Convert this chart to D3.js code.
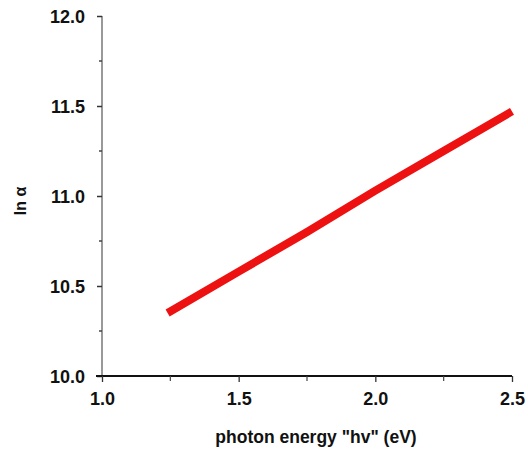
<!DOCTYPE html>
<html><head><meta charset="utf-8">
<script src="https://cdn.jsdelivr.net/npm/d3@7"></script>
<style>body{margin:0;background:#fff}svg{display:block}text{font-family:"Liberation Sans",Arial,sans-serif;font-weight:bold;fill:#111}</style>
</head><body><svg id="c" width="528" height="454"></svg>
<script>
const energy = [1.24, 1.5, 1.75, 2.0, 2.25, 2.5];
const lnAlpha = [10.35, 10.58, 10.80, 11.03, 11.25, 11.47];
const xTicks = [1.0, 1.5, 2.0, 2.5];
const yTicks = [10.0, 10.5, 11.0, 11.5, 12.0];
const xMinor = [1.25, 1.75, 2.25];
const yMinor = [10.25, 10.75, 11.25, 11.75];

const svg = d3.select("#c");
const x = d3.scaleLinear().domain([1.0, 2.5]).range([102, 512]);
const y = d3.scaleLinear().domain([10.0, 12.0]).range([376, 16]);

// y axis
const ya = svg.append("g").attr("transform", "translate(102,0)")
  .call(d3.axisLeft(y).tickValues(yTicks).tickFormat(d3.format(".1f")).tickSize(5).tickPadding(12));
ya.select(".domain").attr("stroke", "#555").attr("stroke-width", 1.2).attr("d", "M0," + y(12) + "V" + y(10));
ya.selectAll(".tick line").attr("stroke", "#333").attr("stroke-width", 1.5);
ya.selectAll(".tick text").attr("font-size", 18).attr("font-family", "Liberation Sans, Arial, sans-serif").attr("font-weight", "bold").attr("fill", "#111").attr("dy", "0.35em");
svg.append("g").selectAll("line").data(yMinor).join("line")
  .attr("x1", 99).attr("x2", 102).attr("y1", d => y(d)).attr("y2", d => y(d))
  .attr("stroke", "#444").attr("stroke-width", 1.5);

// x axis
const xa = svg.append("g").attr("transform", "translate(0,376)")
  .call(d3.axisBottom(x).tickValues(xTicks).tickFormat(d3.format(".1f")).tickSize(6).tickPadding(10));
xa.select(".domain").attr("stroke", "#111").attr("stroke-width", 2.2).attr("d", "M96,0H" + x(2.5));
xa.selectAll(".tick line").attr("stroke", "#333").attr("stroke-width", 1.3);
xa.selectAll(".tick text").attr("font-size", 18).attr("font-family", "Liberation Sans, Arial, sans-serif").attr("font-weight", "bold").attr("fill", "#111");
svg.append("g").selectAll("line").data(xMinor).join("line")
  .attr("x1", d => x(d)).attr("x2", d => x(d)).attr("y1", 376).attr("y2", 381)
  .attr("stroke", "#444").attr("stroke-width", 1.2);

// line
svg.append("path").datum(energy.map((e, i) => [e, lnAlpha[i]]))
  .attr("fill", "none").attr("stroke", "#ee1111").attr("stroke-width", 8)
  .attr("d", d3.line().x(d => x(d[0])).y(d => y(d[1])));

// labels
svg.append("text").attr("x", 316).attr("y", 443).attr("text-anchor", "middle")
  .attr("font-size", 17.5).text('photon energy "hv" (eV)');
svg.append("text").attr("transform", "translate(26,201) rotate(-90)").attr("text-anchor", "middle")
  .attr("font-size", 16).text("ln α");
</script></body></html>
